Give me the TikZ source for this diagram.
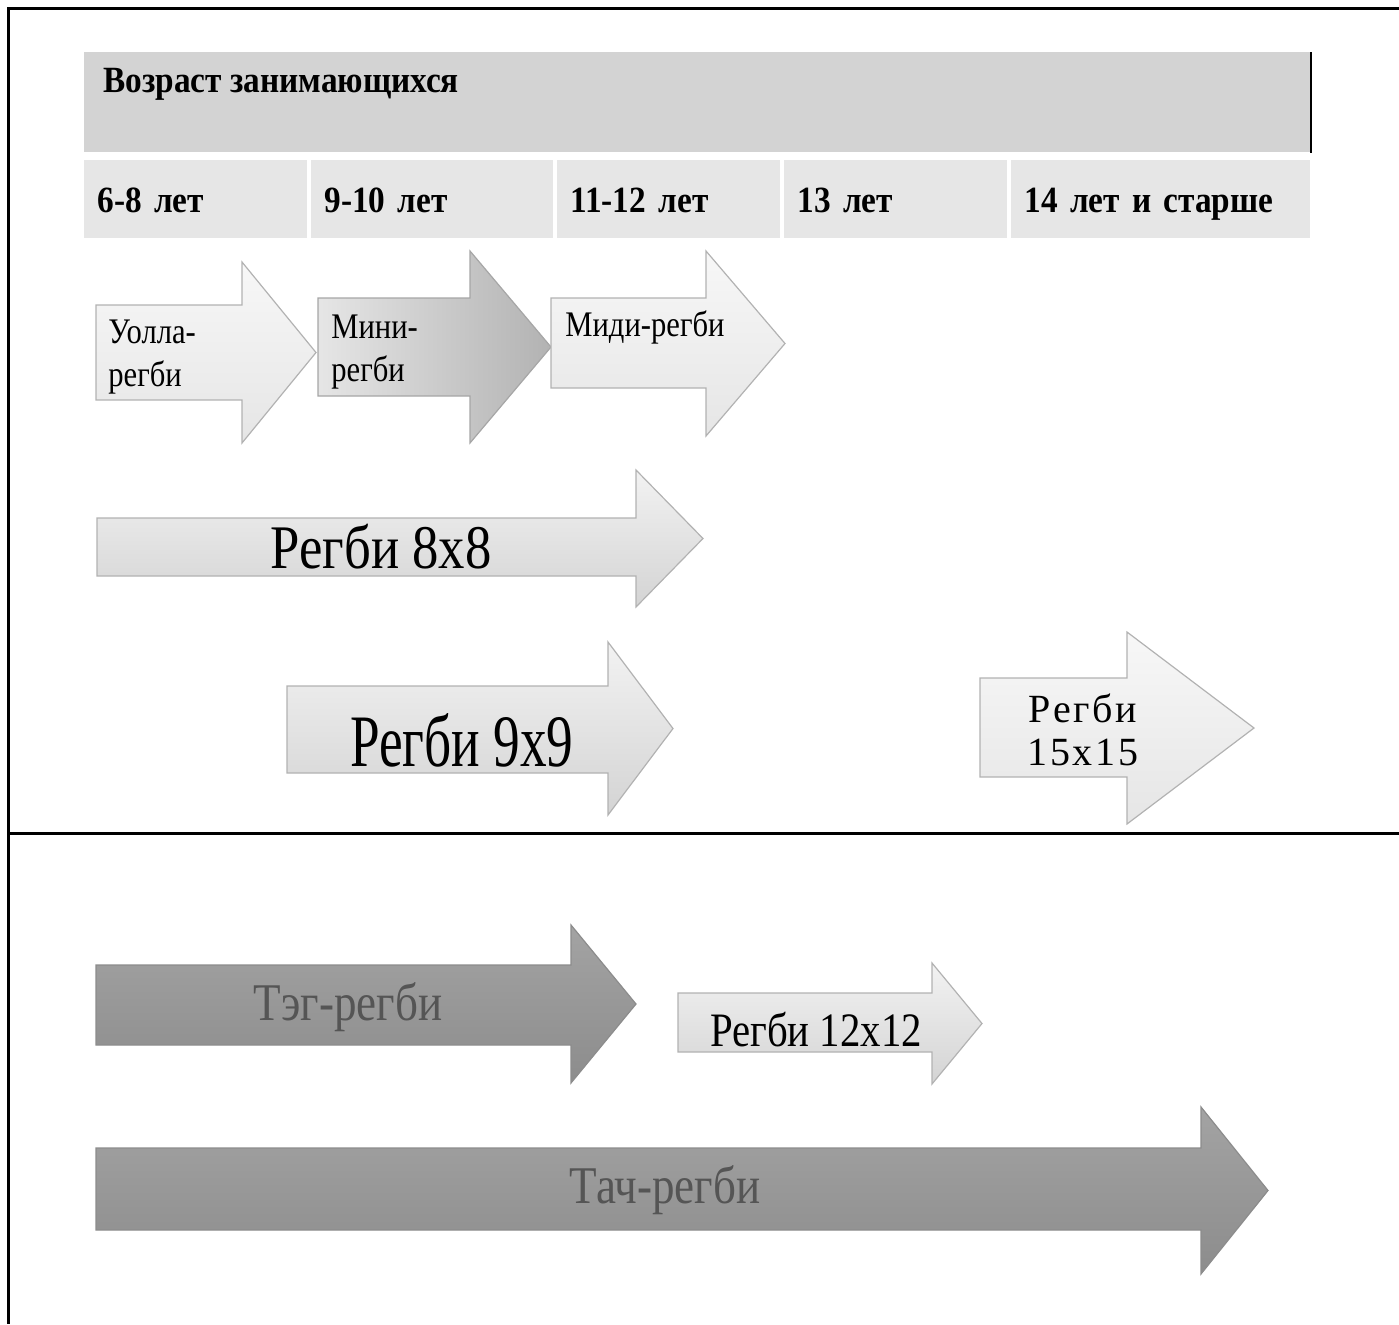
\documentclass[tikz,border=0pt]{standalone}
\usepackage{fontspec}
\setmainfont{Liberation Serif}
\newfontfamily\narrowserif[FakeStretch=0.85]{Liberation Serif}
\newfontfamily\tallserif[FakeStretch=0.72]{Liberation Serif}
\newfontfamily\wideserif[LetterSpace=7]{Liberation Serif}
\newfontfamily\headserif[FakeStretch=0.9]{Liberation Serif}
\usepackage{tikz}
\usetikzlibrary{positioning}

\definecolor{hdrgray}{HTML}{D3D3D3}
\definecolor{agegray}{HTML}{E6E6E6}
\definecolor{darktext}{HTML}{555555}

\newcommand{\rugbyarrow}[8]{%
  \path[#1] (#2,#3) -- (#5,#3) -- (#5,#6) -- (#8,{(#6+#7)/2}) -- (#5,#7) -- (#5,#4) -- (#2,#4) -- cycle;}

\begin{document}
\begin{tikzpicture}[x=0.5pt, y=-0.5pt]
      \tikzset{
         agecell/.style = {
            fill=agegray, anchor=north west, inner ysep=0pt, inner xsep=6.5pt,
            minimum height=39pt, align=left, text height=15pt, text depth=2pt,
            font=\headserif\fontsize{18.5}{21}\selectfont\bfseries
         },
         lightarrow/.style = {draw=black!30, line width=0.6pt, top color=black!3, bottom color=black!10},
         midarrow/.style = {draw=black!30, line width=0.6pt, top color=black!5, bottom color=black!17},
         miniarrow/.style = {draw=black!35, line width=0.6pt, left color=black!10, right color=black!30},
         darkarrow/.style = {draw=black!45, line width=0.6pt, top color=black!36, bottom color=black!45},
         smalllabel/.style = {inner sep=0pt, align=left, font=\narrowserif\fontsize{18}{21.5}\selectfont},
         biglabel/.style = {inner sep=0pt, font=\narrowserif\fontsize{31}{34}\selectfont}
      }
      \useasboundingbox (0,0) rectangle (1399,1324);
      \node[fill=hdrgray, anchor=north west, minimum width=613pt, minimum height=50pt, inner sep=0pt] (hdr) at (84,52) {};
      \node[anchor=west, inner sep=0pt, font=\headserif\fontsize{18.5}{21}\selectfont\bfseries] (hdrtext) at (103,84) {Возраст занимающихся};
      \draw[line width=1pt] (hdr.north east) -- (hdr.south east);
      \node[agecell, text width=98.5pt] (age1) at (84,160) {6-8 лет};
      \node[agecell, text width=108pt] (age2) at (311,160) {9-10 лет};
      \node[agecell, text width=98.5pt] (age3) at (557,160) {11-12 лет};
      \node[agecell, text width=98.5pt] (age4) at (784,160) {13 лет};
      \node[agecell, text width=136.5pt] (age5) at (1011,160) {14 лет и старше};
      \rugbyarrow{lightarrow}{96}{305}{400}{242}{262}{443}{316}
      \rugbyarrow{miniarrow}{318}{298}{396}{470}{251}{443}{551}
      \rugbyarrow{lightarrow}{551}{298}{388}{706}{251}{436}{785}
      \rugbyarrow{midarrow}{97}{518}{576}{636}{470}{607}{703}
      \rugbyarrow{midarrow}{287}{686}{773}{608}{642}{815}{673}
      \rugbyarrow{lightarrow}{980}{678}{777}{1127}{632}{824}{1254}
      \node[smalllabel, anchor=west] (ulla) at (108,357) {Уолла-\\регби};
      \node[smalllabel, anchor=west] (mini) at (331,352) {Мини-\\регби};
      \node[smalllabel, anchor=west] (midi) at (565,327) {Миди-регби};
      \node[biglabel] (eight) at (381,547) {Регби 8х8};
      \node[inner sep=0pt, font=\tallserif\fontsize{37}{40}\selectfont] (nine) at (462,740) {Регби 9х9};
      \node[inner sep=0pt, align=center, font=\wideserif\fontsize{20}{21.5}\selectfont] (fifteen) at (1083,730) {Регби\\15х15};
      \draw[line width=1.5pt] (1399,8) -- (8,8) -- (8,1324);
      \draw[line width=1.5pt] (8,833) -- (1399,833);
      \rugbyarrow{darkarrow}{96}{965}{1045}{571}{925}{1083}{636}
      \rugbyarrow{midarrow}{678}{993}{1052}{932}{963}{1084}{982}
      \rugbyarrow{darkarrow}{96}{1148}{1230}{1201}{1107}{1274}{1268}
      \node[inner sep=0pt, text=darktext, font=\narrowserif\fontsize{26.5}{30}\selectfont] (tag) at (348,1007) {Тэг-регби};
      \node[inner sep=0pt, font=\narrowserif\fontsize{24}{28}\selectfont] (twelve) at (816,1030) {Регби 12х12};
      \node[inner sep=0pt, text=darktext, font=\narrowserif\fontsize{26.5}{30}\selectfont] (touch) at (665,1190) {Тач-регби};
\end{tikzpicture}
\end{document}
